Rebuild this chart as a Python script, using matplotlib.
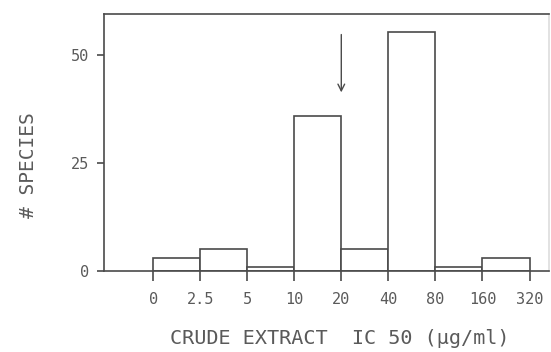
import matplotlib
matplotlib.use("Agg")
import matplotlib.pyplot as plt
import numpy as np

# Data
edge_labels = ["0", "2.5", "5", "10", "20", "40", "80", "160", "320"]
counts = [3, 5, 1, 36, 5, 55.5, 1, 3]
yticks = [0, 25, 50]
arrow_at = "20"
arrow_from, arrow_to = 55.5, 40.8

col = "#4a4a4a"
tcol = "#5a5a5a"
font = "DejaVu Sans Mono"
fig = plt.figure(figsize=(5.51, 3.52), dpi=100)
ax = fig.add_axes([0.189, 0.230, 0.807, 0.730])

edges = np.arange(len(edge_labels))
ax.bar(edges[:-1], counts, width=1.0, align="edge", facecolor="white",
       edgecolor=col, linewidth=1.2, zorder=2)

xa = edge_labels.index(arrow_at)
ax.annotate("", xy=(xa, arrow_to), xytext=(xa, arrow_from),
            arrowprops=dict(arrowstyle="->", color=col, lw=1.0,
                            mutation_scale=12))

ax.set_xlim(-1.04, 8.41)
ax.set_ylim(0, 59.6)
ax.set_xticks(edges)
ax.set_xticklabels(edge_labels, family=font)
ax.set_yticks(yticks)
ax.set_yticklabels([str(v) for v in yticks], family=font)

for s in ["left", "top", "bottom", "right"]:
    ax.spines[s].set_color(col)
    ax.spines[s].set_linewidth(1.2)
ax.spines["right"].set_color("#dddddd")

ax.tick_params(axis="x", direction="out", length=7, width=1.2, color=col,
               labelcolor=tcol, labelsize=11, pad=8)
ax.tick_params(axis="y", direction="out", length=5, width=1.2, color=col,
               labelcolor=tcol, labelsize=11, pad=6)

ax.set_xlabel("CRUDE EXTRACT  IC 50 (\u03bcg/ml)", fontsize=14.5,
              color=tcol, family=font)
ax.xaxis.set_label_coords((340 - 104) / (549 - 104), -(329 - 271) / (271 - 14))
ax.set_ylabel("# SPECIES", fontsize=14, color=tcol, family=font)
ax.yaxis.set_label_coords(-(104 - 38) / (549 - 104), (271 - 165) / (271 - 14))

fig.savefig("out.png", dpi=100)
